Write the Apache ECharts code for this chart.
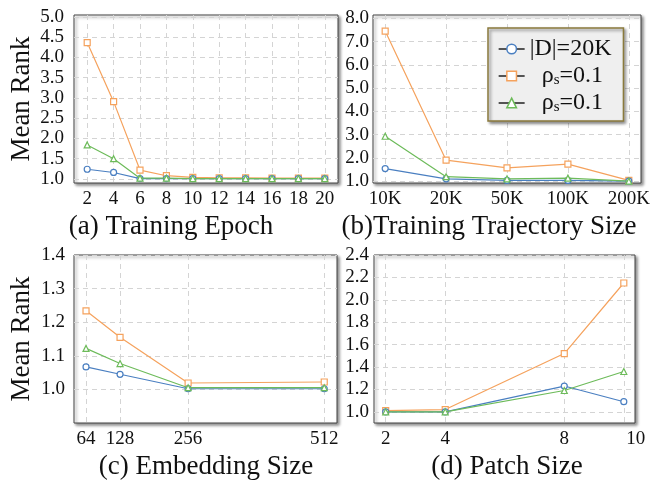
<!DOCTYPE html>
<html><head><meta charset="utf-8">
<script src="https://cdn.jsdelivr.net/npm/echarts@6/dist/echarts.min.js"></script>
<style>html,body{margin:0;padding:0;background:#fff}#c{width:661px;height:481px}</style>
</head><body><div id="c"></div>
<script>
// ---- data ----
const epochTicks = [2,4,6,8,10,12,14,16,18,20];
const epochD    = [1.24,1.16,1.01,1.01,1.01,1.01,1.01,1.01,1.01,1.01];
const epochRho1 = [4.37,2.91,1.22,1.08,1.04,1.03,1.03,1.02,1.02,1.02];
const epochRho2 = [1.84,1.50,1.02,1.02,1.01,1.01,1.01,1.01,1.01,1.01];

const trajCats = ['10K','20K','50K','100K','200K'];
const trajD    = [1.54,1.10,1.03,1.03,1.00];
const trajRho1 = [7.45,1.90,1.57,1.73,1.03];
const trajRho2 = [2.93,1.19,1.10,1.13,1.00];

const embTicks = [64,128,256,512];
const embD    = [1.067,1.045,1.002,1.002];
const embRho1 = [1.234,1.155,1.019,1.022];
const embRho2 = [1.122,1.077,1.005,1.005];

const patchTicks = [2,4,8,10];
const patchD    = [1.00,1.00,1.23,1.09];
const patchRho1 = [1.01,1.02,1.52,2.15];
const patchRho2 = [1.00,1.00,1.19,1.36];

const yTicksA = [1.0,1.5,2.0,2.5,3.0,3.5,4.0,4.5,5.0];
const yTicksB = [1,2,3,4,5,6,7,8];
const yTicksC = [1.0,1.1,1.2,1.3,1.4];
const yTicksD = [1.0,1.2,1.4,1.6,1.8,2.0,2.2,2.4];

const seriesNames = ['D','rho1','rho2'];
const colors = ['#4a7fc1','#f5a25d','#6dbb5a'];
const symbols = ['circle','rect','triangle'];
const captions = ['(a) Training Epoch','(b)Training Trajectory Size','(c) Embedding Size','(d) Patch Size'];

// ---- chart ----
const FONT = '"Liberation Serif","DejaVu Serif",serif';
const TS = 19;
const grids = [
  {left:74, top:15, width:264, height:168},
  {left:373, top:15, width:268, height:168},
  {left:74, top:255, width:263, height:168},
  {left:374, top:255, width:261, height:168}
];
grids.forEach(g=>Object.assign(g,{show:true,backgroundColor:'#fff',borderColor:'#444',borderWidth:1,
  shadowColor:'rgba(0,0,0,0.45)',shadowBlur:3,shadowOffsetX:2,shadowOffsetY:2}));

const splitLine = {show:true,lineStyle:{color:'#d4d4d4',type:[5,4],width:1}};
function xAx(i,min,max,ticks,fmt){
  return {type:'value',gridIndex:i,min:min,max:max,
    axisLine:{show:false},
    axisTick:{show:false,customValues:ticks},
    axisLabel:{customValues:ticks,formatter:fmt,fontFamily:FONT,fontSize:TS,color:'#111',margin:7},
    splitLine:splitLine};
}
function yAx(i,min,max,ticks,margin){
  return {type:'value',gridIndex:i,min:min,max:max,
    axisLine:{show:false},
    axisTick:{show:false,customValues:ticks},
    axisLabel:{customValues:ticks,formatter:v=>v.toFixed(1),fontFamily:FONT,fontSize:TS,color:'#111',margin:margin},
    splitLine:splitLine};
}
const xAxis = [
  xAx(0,1,21,epochTicks,v=>String(v)),
  xAx(1,-0.2,4.2,[0,1,2,3,4],v=>trajCats[Math.round(v)]),
  xAx(2,41.4,536,embTicks,v=>String(v)),
  xAx(3,1.607,10.376,patchTicks,v=>v===10?'{r|10}':String(v))
];
xAxis[3].axisLabel.rich = {r:{fontFamily:FONT,fontSize:TS,color:'#111',padding:[0,0,0,24]}};
const yAxis = [
  yAx(0,0.9,5.05,yTicksA,10),
  yAx(1,0.92,8.14,yTicksB,4),
  yAx(2,0.9,1.4,yTicksC,9),
  yAx(3,0.9,2.4,yTicksD,5)
];
yAxis[0].name='Mean Rank'; yAxis[2].name='Mean Rank';
[0,2].forEach(k=>Object.assign(yAxis[k],{nameLocation:'middle',nameGap:39,nameRotate:90,
  nameTextStyle:{fontFamily:FONT,fontSize:27,color:'#111'}}));

const xs = [epochTicks,[0,1,2,3,4],embTicks,patchTicks];
const dataSets = [
  [epochD,epochRho1,epochRho2],
  [trajD,trajRho1,trajRho2],
  [embD,embRho1,embRho2],
  [patchD,patchRho1,patchRho2]
];
const series = [];
dataSets.forEach((set,gi)=>{
  set.forEach((vals,si)=>{
    series.push({type:'line',name:seriesNames[si],xAxisIndex:gi,yAxisIndex:gi,
      data:vals.map((v,k)=>[xs[gi][k],v]),
      symbol:symbols[si],symbolSize:6,showSymbol:true,
      lineStyle:{color:colors[si],width:1.2},
      itemStyle:{color:'#fff',borderColor:colors[si],borderWidth:1.2},
      emphasis:{disabled:true},animation:false,z:si===0?3:(si===2?4:2)});
  });
});

const legendFmt = {D:'{a||D|=20K}',rho1:'{a|  ρ}{s|s}{a|=0.1}',rho2:'{a|  ρ}{s|s}{a|=0.1}'};
const option = {
  animation:false,
  grid:grids, xAxis:xAxis, yAxis:yAxis, series:series,
  legend:{show:true,orient:'vertical',left:488,top:28,
    data:seriesNames.map(n=>({name:n,itemStyle:{borderWidth:1.5}})),
    backgroundColor:'#efefef',borderColor:'#8a7a3c',borderWidth:1.5,borderRadius:0,
    padding:[9,12,6,10],itemGap:3,itemWidth:26,itemHeight:12,
    shadowColor:'rgba(0,0,0,0.45)',shadowBlur:3,shadowOffsetX:2,shadowOffsetY:2,
    lineStyle:{color:'#000',width:1.3},
    selectedMode:false,
    formatter:n=>legendFmt[n],
    textStyle:{fontFamily:FONT,fontSize:24,color:'#111',
      rich:{a:{fontFamily:FONT,fontSize:24,color:'#111'},s:{fontFamily:FONT,fontSize:15,color:'#111',verticalAlign:'bottom',padding:[9,0,0,0]}}}
  },
  graphic: captions.map((t,i)=>({type:'text',
    x:[171,489,206,507][i], y:[227,227,467,467][i],
    style:{text:t,font:'27px '+FONT,fill:'#111',align:'center',verticalAlign:'middle'}}))
};
const chart = echarts.init(document.getElementById('c'),null,{renderer:'canvas'});
chart.setOption(option);
</script></body></html>
